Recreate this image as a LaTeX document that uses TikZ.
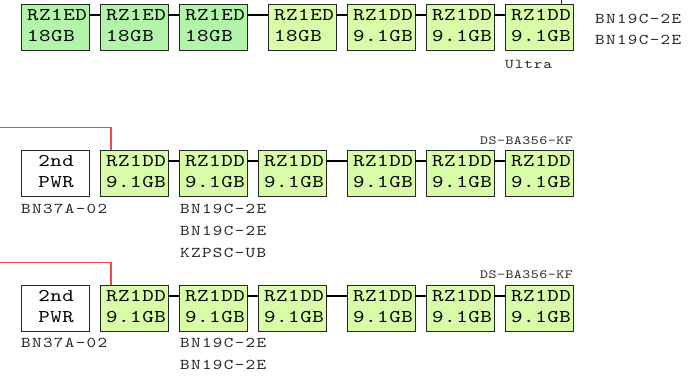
\documentclass[tikz,border=0pt]{standalone}
\usepackage{fontspec}
\newfontfamily\bxfam{lmmono10-regular.otf}[FakeStretch=1.22,LetterSpace=3]
\newfontfamily\lbfam{lmmono10-regular.otf}[FakeStretch=1.22,LetterSpace=9]
\newfontfamily\smfam{lmmono10-regular.otf}[FakeStretch=1.22,LetterSpace=4]
\newfontfamily\ulfam{lmmono10-regular.otf}[FakeStretch=1.22,LetterSpace=7]
\newcommand{\bxfnt}{\bxfam\fontsize{18}{20}\selectfont}
\newcommand{\lbfnt}{\lbfam\fontsize{15}{16}\selectfont}
\newcommand{\smfnt}{\smfam\fontsize{12.5}{13}\selectfont}
\newcommand{\ulfnt}{\ulfam\fontsize{13.5}{14}\selectfont}
\definecolor{dkgreen}{HTML}{B2F5AA}
\definecolor{ltgreen}{HTML}{D8FCA8}
\definecolor{redln}{HTML}{F04848}
\tikzset{
  diskbox/.style={draw=black!85, line width=0.9bp, inner sep=0pt, anchor=north west, minimum width=67.5bp, minimum height=45.5bp},
  boxtxt/.style={inner sep=0pt, font=\bxfnt, text=black},
  lbl/.style={inner sep=0pt, anchor=base west, font=\lbfnt, text=black!85},
  smlbl/.style={inner sep=0pt, font=\smfnt, text=black!85},
  conn/.style={line width=2bp, black},
  redline/.style={line width=1.1bp, redln},
}
\newcommand{\dsk}[6]{%
  \node[diskbox, fill=#4] (#1) at (#2,#3) {};
  \node[boxtxt, anchor=base west] (#1a) at ([xshift=6bp,yshift=-16bp]#1.north west) {#5};
  \node[boxtxt, anchor=base west] (#1b) at ([xshift=6bp,yshift=-37bp]#1.north west) {#6};
}
\newcommand{\pwr}[3]{%
  \node[diskbox, fill=white] (#1) at (#2,#3) {};
  \node[boxtxt, anchor=base] (#1a) at ([xshift=1bp,yshift=-16bp]#1.north) {2nd};
  \node[boxtxt, anchor=base] (#1b) at ([xshift=1bp,yshift=-37bp]#1.north) {PWR};
}
\newcommand{\cn}[2]{\draw[conn] ([yshift=-11bp]#1.north east) -- ([yshift=-11bp]#2.north west);}
\begin{document}
\begin{tikzpicture}[x=1bp,y=-1bp]
\useasboundingbox (0,0) rectangle (695,375);
% top row
\dsk{ta}{21}{4}{dkgreen}{RZ1ED}{18GB}
\dsk{tb}{100}{4}{dkgreen}{RZ1ED}{18GB}
\dsk{tc}{179}{4}{dkgreen}{RZ1ED}{18GB}
\dsk{td}{268}{4}{ltgreen}{RZ1ED}{18GB}
\dsk{te}{347}{4}{ltgreen}{RZ1DD}{9.1GB}
\dsk{tf}{426}{4}{ltgreen}{RZ1DD}{9.1GB}
\dsk{tg}{505}{4}{ltgreen}{RZ1DD}{9.1GB}
\cn{ta}{tb}\cn{tb}{tc}\cn{tc}{td}\cn{td}{te}\cn{te}{tf}\cn{tf}{tg}
\coordinate (t0) at (561,0);
\draw[black!85, line width=0.9bp] (t0) -- (t0 |- tg.north);
\node[lbl] (tl1) at (595,23) {BN19C-2E};
\node[lbl] (tl2) at (595,44) {BN19C-2E};
\node[inner sep=0pt, anchor=base west, font=\ulfnt, text=black!85] (tl3) at (505,68) {Ultra};
% middle row
\pwr{mp}{21}{150}
\dsk{ma}{100}{150}{ltgreen}{RZ1DD}{9.1GB}
\dsk{mb}{179}{150}{ltgreen}{RZ1DD}{9.1GB}
\dsk{mc}{258}{150}{ltgreen}{RZ1DD}{9.1GB}
\dsk{md}{347}{150}{ltgreen}{RZ1DD}{9.1GB}
\dsk{me}{426}{150}{ltgreen}{RZ1DD}{9.1GB}
\dsk{mf}{505}{150}{ltgreen}{RZ1DD}{9.1GB}
\cn{ma}{mb}\cn{mb}{mc}\cn{mc}{md}\cn{md}{me}\cn{me}{mf}
\coordinate (mr) at (0,127.5);
\draw[redline] (mr) -| ([xshift=11bp]ma.north west);
\node[smlbl, anchor=base east] (mds) at (573,144) {DS-BA356-KF};
\node[lbl] (ml1) at (21,213) {BN37A-02};
\node[lbl] (ml2) at (180,213) {BN19C-2E};
\node[lbl] (ml3) at (180,235) {BN19C-2E};
\node[lbl] (ml4) at (180,257) {KZPSC-UB};
% bottom row
\pwr{bp}{21}{285}
\dsk{ba}{100}{285}{ltgreen}{RZ1DD}{9.1GB}
\dsk{bb}{179}{285}{ltgreen}{RZ1DD}{9.1GB}
\dsk{bc}{258}{285}{ltgreen}{RZ1DD}{9.1GB}
\dsk{bd}{347}{285}{ltgreen}{RZ1DD}{9.1GB}
\dsk{be}{426}{285}{ltgreen}{RZ1DD}{9.1GB}
\dsk{bf}{505}{285}{ltgreen}{RZ1DD}{9.1GB}
\cn{ba}{bb}\cn{bb}{bc}\cn{bc}{bd}\cn{bd}{be}\cn{be}{bf}
\coordinate (br) at (0,262.5);
\draw[redline] (br) -| ([xshift=11bp]ba.north west);
\node[smlbl, anchor=base east] (bds) at (573,278.5) {DS-BA356-KF};
\node[lbl] (bl1) at (21,347) {BN37A-02};
\node[lbl] (bl2) at (180,347) {BN19C-2E};
\node[lbl] (bl3) at (180,369) {BN19C-2E};
\end{tikzpicture}
\end{document}
